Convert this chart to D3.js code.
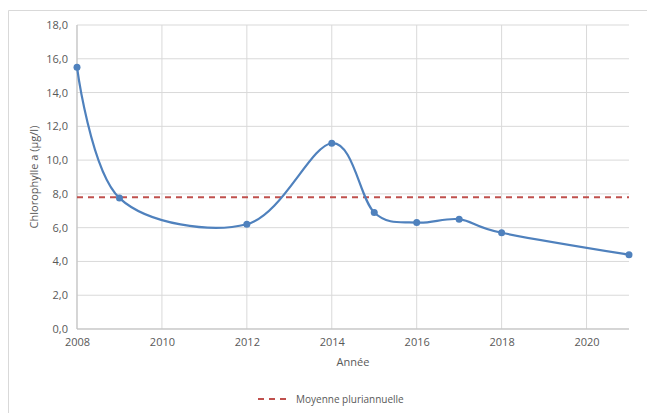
<!DOCTYPE html>
<html><head><meta charset="utf-8">
<script src="https://cdn.jsdelivr.net/npm/d3@7"></script>
<style>
body{margin:0;background:#fff;}
svg{display:block;font-family:"Open Sans","Liberation Sans",sans-serif;}
</style></head>
<body><svg id="c" width="647" height="413"></svg>
<script>
const years = [2008, 2009, 2012, 2014, 2015, 2016, 2017, 2018, 2021];
const chloro = [15.5, 7.75, 6.2, 11.0, 6.9, 6.3, 6.5, 5.7, 4.4];
const meanValue = 7.8;
const xTicks = [2008, 2010, 2012, 2014, 2016, 2018, 2020];
const yTicks = [0, 2, 4, 6, 8, 10, 12, 14, 16, 18];
const labels = {y: "Chlorophylle a (µg/l)", x: "Année", legend: "Moyenne pluriannuelle"};

const svg = d3.select("#c");
const m = {l: 77, r: 629, t: 25, b: 329};
const x = d3.scaleLinear().domain([2008, 2021]).range([m.l, m.r]);
const y = d3.scaleLinear().domain([0, 18]).range([m.b, m.t]);
const fmt = d => d.toFixed(1).replace(".", ",");

// chart border (top + left visible)
svg.append("path").attr("d", "M8.5,440 V10.5 H660").attr("fill", "none").attr("stroke", "#d9d9d9");

// grid
svg.append("g").selectAll("line").data(yTicks).join("line")
  .attr("x1", m.l).attr("x2", m.r).attr("y1", d => y(d)).attr("y2", d => y(d))
  .attr("stroke", "#d9d9d9").attr("stroke-width", 1);
svg.append("g").selectAll("line").data(xTicks).join("line")
  .attr("x1", d => x(d)).attr("x2", d => x(d)).attr("y1", m.t).attr("y2", m.b)
  .attr("stroke", "#d9d9d9").attr("stroke-width", 1);
// axis lines
svg.append("line").attr("x1", m.l).attr("x2", m.r).attr("y1", m.b).attr("y2", m.b).attr("stroke", "#bfbfbf");
svg.append("line").attr("x1", m.l).attr("x2", m.l).attr("y1", m.t).attr("y2", m.b).attr("stroke", "#bfbfbf");

// tick labels
const yAxis = d3.axisLeft(y).tickValues(yTicks).tickFormat(fmt).tickSize(0).tickPadding(9);
const gy = svg.append("g").attr("transform", `translate(${m.l},0)`).call(yAxis);
gy.select(".domain").remove();
gy.selectAll("text").attr("fill", "#595959").attr("font-size", 11).attr("font-family", "'Open Sans',sans-serif");
const xAxis = d3.axisBottom(x).tickValues(xTicks).tickFormat(d3.format("d")).tickSize(0).tickPadding(9);
const gx = svg.append("g").attr("transform", `translate(0,${m.b})`).call(xAxis);
gx.select(".domain").remove();
gx.selectAll("text").attr("fill", "#595959").attr("font-size", 11).attr("font-family", "'Open Sans',sans-serif");

// axis titles
svg.append("text").attr("transform", `translate(38,${(m.t + m.b) / 2}) rotate(-90)`)
  .attr("text-anchor", "middle").attr("fill", "#595959").attr("font-size", 11).text(labels.y);
svg.append("text").attr("x", (m.l + m.r) / 2).attr("y", 366).attr("text-anchor", "middle")
  .attr("fill", "#595959").attr("font-size", 11).text(labels.x);

// mean line
svg.append("line").attr("x1", m.l).attr("x2", m.r).attr("y1", y(meanValue)).attr("y2", y(meanValue))
  .attr("stroke", "#c0504d").attr("stroke-width", 2).attr("stroke-dasharray", "6,5");

// series
const pts = years.map((yr, i) => [yr, chloro[i]]);
const line = d3.line().x(d => x(d[0])).y(d => y(d[1])).curve(d3.curveCardinal.tension(0));
svg.append("path").datum(pts).attr("d", line).attr("fill", "none")
  .attr("stroke", "#4f81bd").attr("stroke-width", 2.2);
svg.append("g").selectAll("circle").data(pts).join("circle")
  .attr("cx", d => x(d[0])).attr("cy", d => y(d[1])).attr("r", 3.5).attr("fill", "#4f81bd");

// legend
svg.append("line").attr("x1", 258).attr("x2", 290).attr("y1", 399).attr("y2", 399)
  .attr("stroke", "#c0504d").attr("stroke-width", 2).attr("stroke-dasharray", "6,5");
svg.append("text").attr("x", 296).attr("y", 403).attr("fill", "#595959").attr("font-size", 10).text(labels.legend);
</script></body></html>
